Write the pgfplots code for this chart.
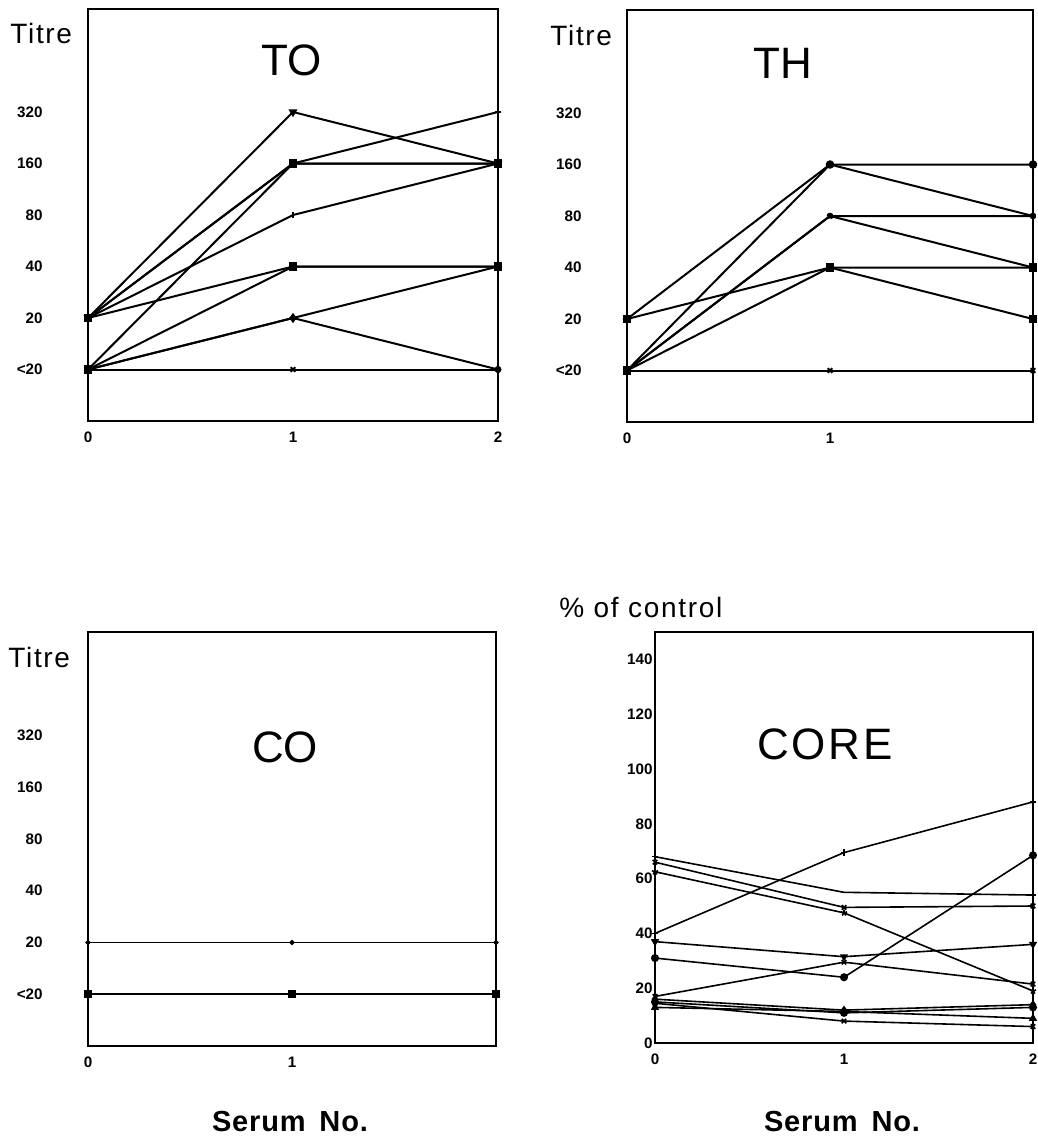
\documentclass[border=0pt]{standalone}
\usepackage{fontspec}
\setmainfont{Liberation Sans}
\newfontfamily\spaced[LetterSpace=6]{Liberation Sans}
\newfontfamily\spacedb[LetterSpace=3]{Liberation Sans}
\usepackage{pgfplots}
\pgfplotsset{compat=1.18}
\pgfplotsset{
  panel/.style={
    scale only axis,
    axis line style={line width=0.9pt},
    major tick length=0pt,
    tick style={draw=none},
    xmin=0, xmax=2,
    clip=false,
    ticklabel style={font=\fontsize{7.6}{8}\selectfont\bfseries},
    xticklabel style={anchor=base, inner sep=0pt, yshift=-10.5pt},
    /pgf/number format/assume math mode=true,
  },
  titre/.style={
    panel,
    ymin=-1, ymax=7,
    ytick={0,1,2,3,4,5},
    yticklabels={<20,20,40,80,160,320},
    yticklabel style={anchor=east, inner sep=0pt, xshift=-22.5pt},
  },
  ser/.style={black, line width=1pt, mark size=1.6pt, mark options={solid, fill=black}},
}
\begin{document}
\begin{tikzpicture}
% ---------- TO ----------
\begin{axis}[titre, at={(44pt,-210.5pt)}, anchor=south west, width=205pt, height=206pt,
  xtick={0,1,2}, xticklabels={0,1,2}]
\addplot[ser, mark=triangle*, mark options={rotate=180}] coordinates {(0,1) (1,5) (2,4)};
\addplot[ser, mark=-] coordinates {(0,1) (1,4) (2,5)};
\addplot[ser, mark=x] coordinates {(0,1) (1,4) (2,4)};
\addplot[ser, mark=square*] coordinates {(0,0) (1,4) (2,4)};
\addplot[ser, mark=|] coordinates {(0,1) (1,3) (2,4)};
\addplot[ser, mark=square*] coordinates {(0,1) (1,2) (2,2)};
\addplot[ser, mark=square] coordinates {(0,0) (1,2) (2,2)};
\addplot[ser, mark=diamond*] coordinates {(0,0) (1,1) (2,2)};
\addplot[ser, mark=diamond*] coordinates {(0,0) (1,1) (2,0)};
\addplot[ser, mark=x] coordinates {(0,0) (1,0) (2,0)};
\end{axis}
% ---------- TH ----------
\begin{axis}[titre, at={(313.5pt,-211pt)}, anchor=south west, width=203pt, height=206pt,
  xtick={0,1}, xticklabels={0,1}]
\addplot[ser, mark=*] coordinates {(0,1) (1,4) (2,4)};
\addplot[ser, mark=-] coordinates {(0,0) (1,4) (2,3)};
\addplot[ser, mark=x] coordinates {(0,0) (1,3) (2,3)};
\addplot[ser, mark=star] coordinates {(0,0) (1,3) (2,2)};
\addplot[ser, mark=square*] coordinates {(0,1) (1,2) (2,2)};
\addplot[ser, mark=square*] coordinates {(0,0) (1,2) (2,1)};
\addplot[ser, mark=x] coordinates {(0,0) (1,0) (2,0)};
\end{axis}
% ---------- CO ----------
\begin{axis}[titre, at={(44pt,-523pt)}, anchor=south west, width=204pt, height=207pt,
  xtick={0,1}, xticklabels={0,1}]
\addplot[ser, line width=0.7pt, mark=*, mark size=0.9pt] coordinates {(0,1) (1,1) (2,1)};
\addplot[ser, line width=0.8pt, mark=square*, mark size=1.7pt] coordinates {(0,0) (1,0) (2,0)};
\end{axis}
% ---------- CORE ----------
\begin{axis}[panel, at={(327.5pt,-521.5pt)}, anchor=south west, width=189pt, height=205.5pt,
  ymin=0, ymax=150, ytick={0,20,...,140},
  yticklabel style={anchor=east, inner sep=0pt, xshift=-1pt},
  xtick={0,1,2}]
\addplot[ser, line width=0.8pt, mark=+] coordinates {(0,40) (1,69.5) (2,88)};
\addplot[ser, line width=0.8pt, mark=-] coordinates {(0,68) (1,55) (2,54)};
\addplot[ser, line width=0.8pt, mark=x] coordinates {(0,66) (1,49.5) (2,50)};
\addplot[ser, line width=0.8pt, mark=star] coordinates {(0,62.5) (1,47.5) (2,19)};
\addplot[ser, line width=0.8pt, mark=triangle*, mark options={rotate=180}] coordinates {(0,37) (1,31.5) (2,36)};
\addplot[ser, line width=0.8pt, mark=*] coordinates {(0,31) (1,24) (2,68.5)};
\addplot[ser, line width=0.8pt, mark=x] coordinates {(0,17) (1,29.5) (2,21.5)};
\addplot[ser, line width=0.8pt, mark=diamond*] coordinates {(0,16) (1,12) (2,14)};
\addplot[ser, line width=0.8pt, mark=*] coordinates {(0,15) (1,11) (2,13)};
\addplot[ser, line width=0.8pt, mark=x] coordinates {(0,14.5) (1,8) (2,6)};
\addplot[ser, line width=0.8pt, mark=triangle*] coordinates {(0,13) (1,11.5) (2,9)};
\end{axis}
% ---------- texts ----------
\node[anchor=west, inner sep=0pt, font=\spaced\fontsize{14}{15}\selectfont] at (5pt,-16.5pt) {Titre};
\node[anchor=west, inner sep=0pt, font=\spaced\fontsize{14}{15}\selectfont] at (275pt,-17.5pt) {Titre};
\node[anchor=west, inner sep=0pt, font=\spaced\fontsize{14}{15}\selectfont] at (4pt,-328.5pt) {Titre};
\node[anchor=west, inner sep=0pt, font=\spaced\fontsize{14}{15}\selectfont] at (279.5pt,-303.5pt) {\% of control};
\node[inner sep=0pt, font=\fontsize{22}{24}\selectfont] at (146pt,-30pt) {TO};
\node[inner sep=0pt, font=\fontsize{22}{24}\selectfont] at (391.5pt,-31.5pt) {TH};
\node[inner sep=0pt, font=\fontsize{22}{24}\selectfont] at (142.5pt,-373.5pt) {CO};
\node[inner sep=0pt, font=\spaced\fontsize{22}{24}\selectfont] at (412.5pt,-372pt) {CORE};
\node[inner sep=0pt, font=\spacedb\fontsize{14.5}{16}\selectfont\bfseries] at (145pt,-561pt) {Serum\, No.};
\node[inner sep=0pt, font=\spacedb\fontsize{14.5}{16}\selectfont\bfseries] at (421pt,-561pt) {Serum\, No.};
\pgfresetboundingbox
\path[use as bounding box] (0pt,0pt) rectangle (519pt,-571pt);
\end{tikzpicture}
\end{document}
